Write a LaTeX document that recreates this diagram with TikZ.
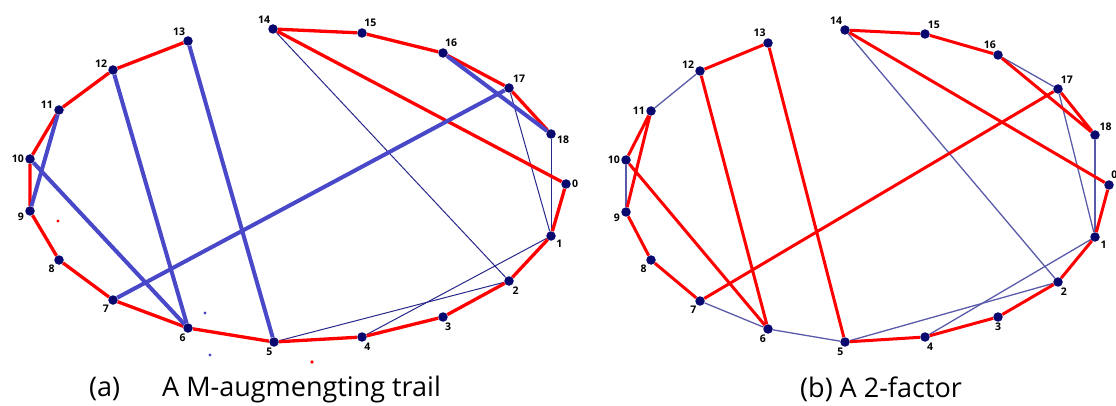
\documentclass[tikz,border=0pt]{standalone}
\usepackage{fontspec}
\setmainfont{Open Sans}
\usepackage{tikz}
\usetikzlibrary{calc}
\tikzset{>=latex}
\definecolor{myred}{RGB}{255, 0, 0}
\definecolor{mynavy}{RGB}{8, 8, 110}
\definecolor{myblue}{RGB}{72, 72, 200}
\definecolor{mythin}{RGB}{40, 40, 140}
\definecolor{myslate}{RGB}{90, 90, 170}

\begin{document}
\begin{tikzpicture}[x = 1pt, y = -1pt,
  vtx/.style = {circle, fill = mynavy, inner sep = 0pt, minimum size = 9.5pt, label distance = 0.5pt},
  lbl/.style = {font = \bfseries\fontsize{10.5}{10.5}\selectfont, inner sep = 1pt},
  captxt/.style = {anchor = west, font = \fontsize{27}{27}\selectfont, inner sep = 0pt},
  redE/.style = {myred, line width = 3.3pt, line join = round},
  blueE/.style = {myblue, line width = 4pt},
  thinE/.style = {mythin, line width = 1pt},
  slateE/.style = {myslate, line width = 1.3pt}]

\useasboundingbox (0, 0) rectangle (1116, 406); % page size

% (a) left graph
\begin{scope}
\node[vtx, label = {[lbl]0:0}]    (a0)  at (566, 184) {};
\node[vtx, label = {[lbl]-35:1}]  (a1)  at (551, 236) {};
\node[vtx, label = {[lbl]-60:2}]  (a2)  at (509, 281) {};
\node[vtx, label = {[lbl]-80:3}]  (a3)  at (443, 317) {};
\node[vtx, label = {[lbl]-75:4}]  (a4)  at (362, 337) {};
\node[vtx, label = {[lbl]-95:5}]  (a5)  at (274, 342) {};
\node[vtx, label = {[lbl]-105:6}] (a6)  at (188, 328) {};
\node[vtx, label = {[lbl]-125:7}] (a7)  at (113, 300) {};
\node[vtx, label = {[lbl]-130:8}] (a8)  at (59, 260) {};
\node[vtx, label = {[lbl]190:9}]  (a9)  at (30, 211) {};
\node[vtx, label = {[lbl]180:10}] (a10) at (30, 159) {};
\node[vtx, label = {[lbl]175:11}] (a11) at (59, 110) {};
\node[vtx, label = {[lbl]165:12}] (a12) at (113, 70) {};
\node[vtx, label = {[lbl]110:13}] (a13) at (188, 41) {};
\node[vtx, label = {[lbl]110:14}] (a14) at (273, 29) {};
\node[vtx, label = {[lbl]75:15}]  (a15) at (362, 33) {};
\node[vtx, label = {[lbl]80:16}]  (a16) at (443, 53) {};
\node[vtx, label = {[lbl]55:17}]  (a17) at (509, 88) {};
\node[vtx, label = {[lbl]-10:18}] (a18) at (551, 134) {};

\draw[thinE] (a14) -- (a2);
\draw[thinE] (a17) -- (a1);
\draw[thinE] (a18) -- (a1);
\draw[thinE] (a1) -- (a4);
\draw[thinE] (a2) -- (a5);
\draw[redE] (a14) -- (a15) -- (a16) -- (a17) -- (a18);
\draw[redE] (a14) -- (a0);
\draw[redE] (a0) -- (a1) -- (a2) -- (a3) -- (a4) -- (a5) -- (a6) -- (a7) -- (a8) -- (a9) -- (a10) -- (a11) -- (a12) -- (a13);
\draw[blueE] (a13) -- (a5);
\draw[blueE] (a12) -- (a6);
\draw[blueE] (a11) -- (a9);
\draw[blueE] (a10) -- (a6);
\draw[blueE] (a16) -- (a18);
\draw[blueE] (a17) -- (a7);

\fill[myred] (58, 221) circle (1.6);
\fill[myblue] (205, 313) circle (1.6);
\fill[myblue] (210, 355) circle (1.6);
\fill[myred] (312, 362) circle (1.8);

\node[captxt] (capa) at (89, 389) {(a)};
\node[captxt] (capat) at (162, 389) {A M-augmengting trail};
\end{scope}

% (b) right graph
\begin{scope}
\node[vtx, label = {[lbl]75:0}]   (b0)  at (1109, 185) {};
\node[vtx, label = {[lbl]-30:1}]  (b1)  at (1095, 237) {};
\node[vtx, label = {[lbl]-70:2}]  (b2)  at (1058, 282) {};
\node[vtx, label = {[lbl]-90:3}]  (b3)  at (998, 317) {};
\node[vtx, label = {[lbl]-80:4}]  (b4)  at (925, 337) {};
\node[vtx, label = {[lbl]-95:5}]  (b5)  at (845, 342) {};
\node[vtx, label = {[lbl]-100:6}] (b6)  at (768, 329) {};
\node[vtx, label = {[lbl]-120:7}] (b7)  at (700, 301) {};
\node[vtx, label = {[lbl]-130:8}] (b8)  at (651, 260) {};
\node[vtx, label = {[lbl]185:9}]  (b9)  at (626, 212) {};
\node[vtx, label = {[lbl]180:10}] (b10) at (626, 160) {};
\node[vtx, label = {[lbl]180:11}] (b11) at (651, 111) {};
\node[vtx, label = {[lbl]165:12}] (b12) at (700, 71) {};
\node[vtx, label = {[lbl]105:13}] (b13) at (768, 43) {};
\node[vtx, label = {[lbl]110:14}] (b14) at (845, 30) {};
\node[vtx, label = {[lbl]70:15}]  (b15) at (925, 34) {};
\node[vtx, label = {[lbl]100:16}] (b16) at (998, 55) {};
\node[vtx, label = {[lbl]70:17}]  (b17) at (1058, 89) {};
\node[vtx, label = {[lbl]45:18}]  (b18) at (1095, 135) {};

\draw[slateE] (b16) -- (b17);
\draw[slateE] (b14) -- (b2);
\draw[slateE] (b17) -- (b1);
\draw[slateE] (b18) -- (b1);
\draw[slateE] (b1) -- (b4);
\draw[slateE] (b2) -- (b5);
\draw[slateE] (b5) -- (b6) -- (b7);
\draw[slateE] (b11) -- (b12);
\draw[slateE] (b10) -- (b9);
\draw[redE, line width = 3pt] (b14) -- (b15) -- (b16) -- (b18) -- (b17) -- (b7) -- (b8) -- (b9) -- (b11) -- (b10) -- (b6) -- (b12) -- (b13) -- (b5) -- (b4) -- (b3) -- (b2) -- (b1) -- (b0) -- (b14);

\node[captxt] (capb) at (800, 389) {(b) A 2-factor};
\end{scope}

\end{tikzpicture}
\end{document}
